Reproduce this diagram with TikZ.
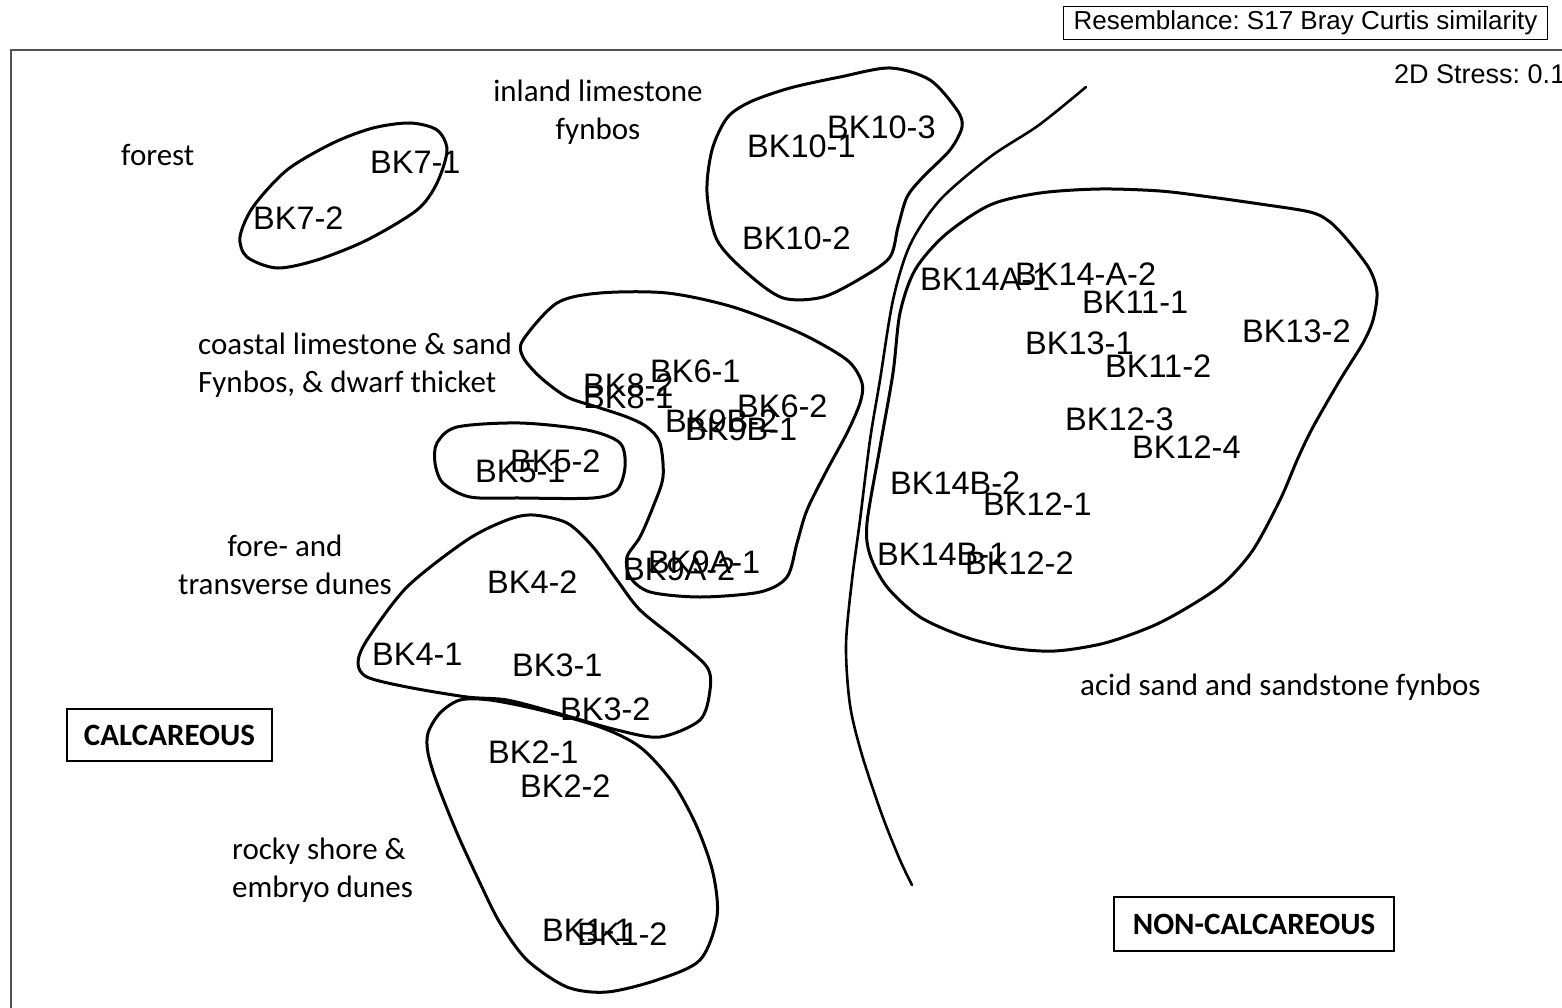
\documentclass[tikz,border=0pt]{standalone}
\usepackage{fontspec}
\setmainfont{Liberation Sans}
\newfontfamily\calib{Carlito}
\frenchspacing
\begin{document}
\begin{tikzpicture}[x=1pt,y=-1pt,
  blob/.style={line width=3pt, black, line join=round},
  divline/.style={line width=2.6pt, black, line cap=round},
  frameline/.style={line width=2.4pt, black!68},
  bk/.style={font=\fontsize{32.5}{39}\selectfont, anchor=west, inner sep=0pt, text height=23.3pt, text depth=0pt},
  cal/.style={font=\calib\fontsize{31}{38}\selectfont, inner sep=0pt},
  soil/.style={draw, line width=2pt, font=\calib\bfseries\fontsize{31}{37}\selectfont, inner sep=0pt},
  hdr/.style={font=\fontsize{26}{30}\selectfont, inner sep=0pt}]
\useasboundingbox (0,0) rectangle (1562,1008);
% frame
\draw[frameline] (11,1020) -- (11,50) -- (1575,50);
\node[hdr, draw, line width=1.2pt, minimum width=484pt, minimum height=33pt] (res) at (1305.5,23) {Resemblance: S17 Bray Curtis similarity};
\node[hdr, anchor=west, text height=19pt, text depth=0pt, font=\fontsize{27}{30}\selectfont] (stress) at (1394,74) {2D Stress: 0.1};

% forest ellipse (BK7)
\draw[blob] plot[smooth cycle] coordinates {(410,123) (437,130) (447,150) (437,183) (417,210) (367,240) (317,260) (277,268) (247,257) (240,237) (253,207) (287,170) (333,143) (373,128)};
% inland limestone fynbos (BK10)
\draw[blob] plot[smooth cycle] coordinates {(727,118) (750,102) (790,88) (840,77) (890,68) (930,80) (957,110) (962,127) (950,150) (923,177) (907,197) (898,227) (890,257) (863,277) (823,297) (783,298) (747,273) (717,240) (707,193) (712,150)};
% coastal limestone (BK6, BK8, BK9)
\draw[blob] plot[smooth cycle] coordinates {(523,340) (557,303) (600,293) (667,293) (733,307) (800,333) (847,360) (862,383) (860,403) (847,433) (827,470) (807,510) (797,543) (787,577) (760,592) (700,597) (650,592) (630,577) (627,557) (640,537) (653,507) (663,477) (660,443) (647,427) (627,417) (597,407) (567,397) (540,377) (523,357)};
% BK5
\draw[blob] plot[smooth cycle] coordinates {(437,443) (457,427) (520,423) (587,430) (620,443) (625,467) (617,490) (593,498) (520,498) (470,497) (443,483) (435,463)};
% fore- and transverse dunes (BK3, BK4)
\draw[blob] plot[smooth cycle] coordinates {(358,663) (367,640) (407,587) (467,540) (507,520) (533,515) (567,523) (593,547) (617,580) (640,610) (677,640) (707,667) (710,690) (700,720) (660,737) (617,730) (557,713) (507,700) (467,697) (407,687) (367,677)};
% rocky shore (BK1, BK2)
\draw[blob] plot[smooth cycle] coordinates {(460,700) (440,713) (428,733) (428,753) (437,783) (457,833) (480,883) (500,923) (527,960) (567,987) (607,992) (657,980) (700,960) (717,917) (713,873) (697,827) (673,783) (640,747) (600,727) (540,710) (490,700)};
% acid sand and sandstone fynbos
\draw[blob] plot[smooth cycle] coordinates {(990,205) (1040,193) (1100,189) (1160,191) (1210,197) (1260,204) (1310,212) (1330,222) (1350,243) (1370,270) (1377,293) (1373,320) (1363,343) (1340,380) (1313,427) (1298,458) (1280,500) (1253,550) (1225,582) (1195,603) (1155,625) (1105,643) (1055,651) (1010,648) (965,637) (920,617) (887,587) (870,555) (867,523) (880,447) (893,373) (900,313) (915,270) (945,235)};
% divider
\draw[divline] plot[smooth] coordinates {(1086,87) (1039,125) (990,157) (940,200) (910,245) (893,300) (880,380) (870,440) (860,520) (852,580) (846,645) (850,705) (862,755) (882,815) (900,860) (912,885)};

% sample labels
\node[bk] (bk71) at (370,162) {BK7-1};
\node[bk] (bk72) at (253,218) {BK7-2};
\node[bk] (bk101) at (747,146) {BK10-1};
\node[bk] (bk103) at (827,127) {BK10-3};
\node[bk] (bk102) at (742,238) {BK10-2};
\node[bk] (bk14a1) at (920,279) {BK14A-1};
\node[bk] (bk14a2) at (1015,274) {BK14-A-2};
\node[bk] (bk111) at (1082,302) {BK11-1};
\node[bk] (bk131) at (1025,343) {BK13-1};
\node[bk] (bk112) at (1105,366) {BK11-2};
\node[bk] (bk132) at (1242,331) {BK13-2};
\node[bk] (bk123) at (1065,419) {BK12-3};
\node[bk] (bk124) at (1132,447) {BK12-4};
\node[bk] (bk14b2) at (890,483) {BK14B-2};
\node[bk] (bk121) at (983,504) {BK12-1};
\node[bk] (bk14b1) at (877,554) {BK14B-1};
\node[bk] (bk122) at (965,563) {BK12-2};
\node[bk] (bk61) at (650,371) {BK6-1};
\node[bk] (bk82) at (583,385) {BK8-2};
\node[bk] (bk81) at (583,397) {BK8-1};
\node[bk] (bk62) at (737,406) {BK6-2};
\node[bk] (bk9b2) at (665,421) {BK9B-2};
\node[bk] (bk9b1) at (685,429) {BK9B-1};
\node[bk] (bk9a1) at (648,562) {BK9A-1};
\node[bk] (bk9a2) at (623,569) {BK9A-2};
\node[bk] (bk52) at (510,461) {BK5-2};
\node[bk] (bk51) at (475,471) {BK5-1};
\node[bk] (bk42) at (487,582) {BK4-2};
\node[bk] (bk41) at (372,654) {BK4-1};
\node[bk] (bk31) at (512,665) {BK3-1};
\node[bk] (bk32) at (560,709) {BK3-2};
\node[bk] (bk21) at (488,752) {BK2-1};
\node[bk] (bk22) at (520,786) {BK2-2};
\node[bk] (bk11) at (542,930) {BK1-1};
\node[bk] (bk12) at (577,934) {BK1-2};

% habitat labels
\node[cal, align=center] (inland) at (598,112) {inland limestone\\fynbos};
\node[cal, anchor=west] (forest) at (121,155) {forest};
\node[cal, align=left, anchor=west] (coastal) at (198,365) {coastal limestone \& sand\\Fynbos, \& dwarf thicket};
\node[cal, align=center] (fore) at (285,565) {fore- and\\transverse dunes};
\node[cal, align=left, anchor=west] (rocky) at (232,870) {rocky shore \&\\embryo dunes};
\node[cal, anchor=west] (acid) at (1080,687) {acid sand and sandstone fynbos};

% soil boxes
\node[soil, minimum width=205pt, minimum height=52pt] (calc) at (169.5,735) {CALCAREOUS};
\node[soil, minimum width=280pt, minimum height=54pt] (noncalc) at (1254,924) {NON-CALCAREOUS};
\end{tikzpicture}
\end{document}
